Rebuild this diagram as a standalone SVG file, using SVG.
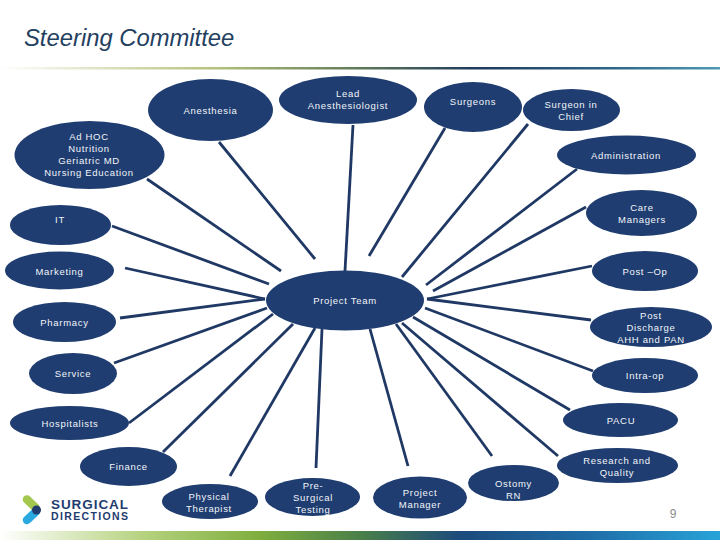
<svg xmlns="http://www.w3.org/2000/svg" width="720" height="540" viewBox="0 0 720 540">
<style>
.n{fill:#1f3d70}
.t{font-family:"Liberation Sans",Arial,sans-serif;font-size:9.5px;letter-spacing:.7px;fill:#f2f5fa;text-anchor:middle}
#connectors line{stroke:#1f3864;stroke-width:2.8;fill:none}
.title{font-family:"Liberation Sans",Arial,sans-serif;font-size:23.8px;font-style:italic;fill:#24405f}
.logo{font-family:"Liberation Sans",Arial,sans-serif;font-weight:bold;fill:#1f3d70}
</style>
<defs>
<linearGradient id="top" x1="0" x2="1" y1="0" y2="0">
<stop offset="0" stop-color="#fff"/><stop offset=".3" stop-color="#b4c27c"/><stop offset=".5" stop-color="#5f7a58"/><stop offset=".66" stop-color="#1f3a5c"/><stop offset=".85" stop-color="#2f6688"/><stop offset="1" stop-color="#4f9ab5"/>
</linearGradient>
<linearGradient id="bot" x1="0" x2="1" y1="0" y2="0">
<stop offset="0" stop-color="#fff"/><stop offset=".2" stop-color="#b5d27e"/><stop offset=".36" stop-color="#7fae3e"/><stop offset=".5" stop-color="#4a8048"/><stop offset=".64" stop-color="#1c4a7c"/><stop offset=".82" stop-color="#1f6ea8"/><stop offset="1" stop-color="#27a3d8"/>
</linearGradient>
</defs>
<rect width="720" height="540" fill="#fff"/>
<rect x="0" y="67" width="720" height="2.5" fill="url(#top)"/>
<rect x="0" y="531" width="720" height="9" fill="url(#bot)"/>
<text class="title" x="24" y="46">Steering Committee</text>
<g id="connectors">
<line x1="219" y1="142" x2="315" y2="259"/>
<line x1="147" y1="179" x2="281" y2="271"/>
<line x1="112" y1="226" x2="269" y2="284"/>
<line x1="125" y1="268" x2="265" y2="299"/>
<line x1="353" y1="125" x2="345" y2="271"/>
<line x1="445" y1="128" x2="369" y2="256"/>
<line x1="528" y1="124" x2="402" y2="277"/>
<line x1="577" y1="169" x2="426" y2="285"/>
<line x1="586" y1="207" x2="433" y2="291"/>
<line x1="592" y1="266" x2="427" y2="299"/>
<line x1="427" y1="299" x2="591" y2="320"/>
<line x1="425" y1="308" x2="593" y2="371"/>
<line x1="413" y1="317" x2="570" y2="410"/>
<line x1="402" y1="323" x2="558" y2="456"/>
<line x1="396" y1="324" x2="492" y2="456"/>
<line x1="370" y1="329" x2="408" y2="466"/>
<line x1="322" y1="329" x2="316" y2="468"/>
<line x1="315" y1="328" x2="230" y2="476"/>
<line x1="293" y1="324" x2="163" y2="452"/>
<line x1="273" y1="314" x2="129" y2="423"/>
<line x1="267" y1="308" x2="114" y2="363"/>
<line x1="265" y1="299" x2="120" y2="318"/>
</g>
<g id="anesthesia"><ellipse class="n" cx="210.5" cy="110" rx="62.5" ry="31"/><text class="t" x="210.5" y="114">Anesthesia</text></g>
<g id="lead"><ellipse class="n" cx="348" cy="100" rx="69" ry="24"/><text class="t" x="348" y="97">Lead</text><text class="t" x="348" y="109">Anesthesiologist</text></g>
<g id="surgeons"><ellipse class="n" cx="473" cy="107" rx="49" ry="25"/><text class="t" x="473" y="105">Surgeons</text></g>
<g id="chief"><ellipse class="n" cx="571.5" cy="110" rx="48.5" ry="21"/><text class="t" x="571" y="108">Surgeon in</text><text class="t" x="571" y="120">Chief</text></g>
<g id="adhoc"><ellipse class="n" cx="89.5" cy="155" rx="75" ry="34"/><text class="t" x="89" y="140">Ad HOC</text><text class="t" x="89" y="152">Nutrition</text><text class="t" x="89" y="164">Geriatric MD</text><text class="t" x="89" y="176">Nursing Education</text></g>
<g id="administration"><ellipse class="n" cx="626.5" cy="155" rx="69.5" ry="19.5"/><text class="t" x="626" y="159">Administration</text></g>
<g id="it"><ellipse class="n" cx="60.5" cy="225" rx="50.5" ry="20"/><text class="t" x="60" y="223">IT</text></g>
<g id="care"><ellipse class="n" cx="641.5" cy="213" rx="55.5" ry="23"/><text class="t" x="642" y="211">Care</text><text class="t" x="642" y="223">Managers</text></g>
<g id="marketing"><ellipse class="n" cx="59.5" cy="270.5" rx="54.5" ry="19"/><text class="t" x="59.5" y="275">Marketing</text></g>
<g id="postop"><ellipse class="n" cx="645" cy="271" rx="53" ry="20"/><text class="t" x="645" y="275">Post –Op</text></g>
<g id="team"><ellipse class="n" cx="345" cy="300.5" rx="79" ry="30"/><text class="t" x="345" y="304">Project Team</text></g>
<g id="pharmacy"><ellipse class="n" cx="64.5" cy="322" rx="51.5" ry="20"/><text class="t" x="64.5" y="326">Pharmacy</text></g>
<g id="discharge"><ellipse class="n" cx="651" cy="327" rx="61" ry="20"/><text class="t" x="651" y="319">Post</text><text class="t" x="651" y="331">Discharge</text><text class="t" x="651" y="343">AHH and PAN</text></g>
<g id="service"><ellipse class="n" cx="73" cy="373.5" rx="44" ry="20.5"/><text class="t" x="73" y="377">Service</text></g>
<g id="intraop"><ellipse class="n" cx="645" cy="375.5" rx="53" ry="17.5"/><text class="t" x="645" y="379">Intra-op</text></g>
<g id="hospitalists"><ellipse class="n" cx="69.5" cy="423" rx="59.5" ry="17"/><text class="t" x="70" y="427">Hospitalists</text></g>
<g id="pacu"><ellipse class="n" cx="620.5" cy="420" rx="57.5" ry="17"/><text class="t" x="621" y="424">PACU</text></g>
<g id="finance"><ellipse class="n" cx="128.5" cy="466.5" rx="48.5" ry="19.5"/><text class="t" x="128.5" y="470">Finance</text></g>
<g id="research"><ellipse class="n" cx="617.5" cy="465.5" rx="60.5" ry="17.5"/><text class="t" x="617" y="464">Research and</text><text class="t" x="617" y="476">Quality</text></g>
<g id="physical"><ellipse class="n" cx="210" cy="501.5" rx="48" ry="17.5"/><text class="t" x="209" y="500">Physical</text><text class="t" x="209" y="512">Therapist</text></g>
<g id="presurgical"><ellipse class="n" cx="312.5" cy="497" rx="47.5" ry="19"/><text class="t" x="313" y="489">Pre-</text><text class="t" x="313" y="501">Surgical</text><text class="t" x="313" y="513">Testing</text></g>
<g id="manager"><ellipse class="n" cx="420" cy="497.5" rx="47" ry="21"/><text class="t" x="420" y="496">Project</text><text class="t" x="420" y="508">Manager</text></g>
<g id="ostomy"><ellipse class="n" cx="513.5" cy="483" rx="45.5" ry="18"/><text class="t" x="513.5" y="487">Ostomy</text><text class="t" x="513.5" y="499">RN</text></g>
<g id="logo">
<line x1="27" y1="499.500" x2="35.500" y2="507.500" stroke="#a4c84e" stroke-width="8.500" stroke-linecap="round"/>
<line x1="35.500" y1="512" x2="27" y2="520" stroke="#29a9e0" stroke-width="8.500" stroke-linecap="round"/>
<circle cx="36.500" cy="510" r="4.500" fill="#1f3d70"/>
<text class="logo" x="51" y="508.500" font-size="13.500" textLength="77">SURGICAL</text>
<text class="logo" x="51" y="520" font-size="10.500" textLength="77">DIRECTIONS</text>
</g>
<text x="673" y="518" font-family="Liberation Sans,Arial,sans-serif" font-size="12" fill="#8c8c8c" text-anchor="middle">9</text>
</svg>
